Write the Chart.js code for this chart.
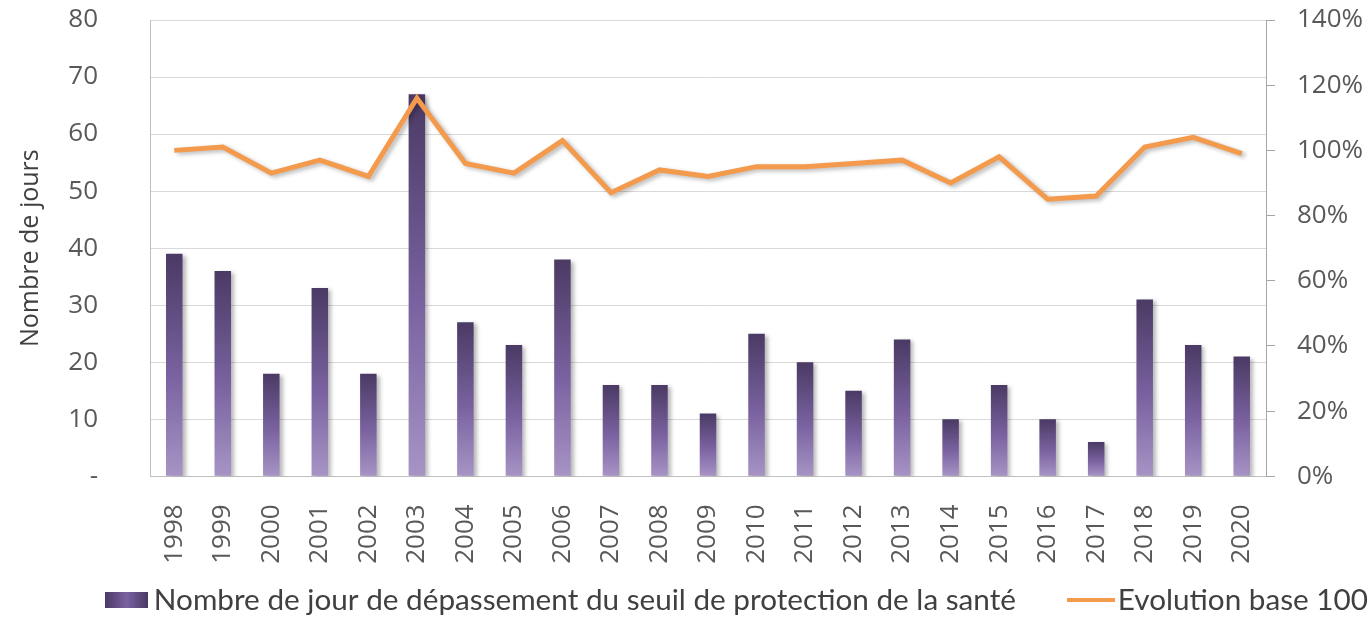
<!DOCTYPE html>
<html lang="fr">
<head>
<meta charset="utf-8">
<script src="https://cdn.jsdelivr.net/npm/chart.js@4.4.0/dist/chart.umd.min.js"></script>
<style>
    html, body { margin: 0; padding: 0; background: #fff; }
    #wrap { width: 1371px; height: 619px; position: relative; }
</style>
</head>
<body>
<div id="wrap"><canvas id="ozone-chart"></canvas></div>
<script>
// Data
const years = ["1998", "1999", "2000", "2001", "2002", "2003", "2004", "2005", "2006", "2007", "2008",
    "2009", "2010", "2011", "2012", "2013", "2014", "2015", "2016", "2017", "2018", "2019", "2020"];
const daysOverThreshold = [39, 36, 18, 33, 18, 67, 27, 23, 38, 16, 16, 11, 25, 20, 15, 24, 10, 16, 10, 6, 31, 23, 21];
const evolutionBase100 = [100, 101, 93, 97, 92, 116, 96, 93, 103, 87, 94, 92, 95, 95, 96, 97, 90, 98, 85, 86, 101, 104, 99];
const daysAxisMax = 80;
const daysAxisStep = 10;
const percentAxisMax = 140;
const percentAxisStep = 20;

const barLabel = "Nombre de jour de dépassement du seuil de protection de la santé";
const lineLabel = "Evolution base 100";

const purpleTop = "#4a3a64";
const purpleMid = "#7a62a0";
const purpleBottom = "#a794c5";
const orange = "#f39a4c";

// legend icons, placed so they sit right next to their text
const legendBox = 80;
function makeBarIcon() {
    const c = document.createElement("canvas");
    c.width = 104; c.height = 16;
    const g = c.getContext("2d");
    const grad = g.createLinearGradient(58, 0, 101, 0);
    grad.addColorStop(0, purpleTop);
    grad.addColorStop(0.5, purpleMid);
    grad.addColorStop(1, purpleTop);
    g.fillStyle = grad;
    g.fillRect(58, 0, 43, 16);
    return c;
}
function makeLineIcon() {
    const c = document.createElement("canvas");
    c.width = 104; c.height = 4;
    const g = c.getContext("2d");
    g.fillStyle = orange;
    g.fillRect(56, 0, 48, 4);
    return c;
}
const barIcon = makeBarIcon();
const lineIcon = makeLineIcon();

function barGradient(context) {
    const chart = context.chart;
    if (!chart.chartArea || context.type !== "data") return purpleMid;
    const y = chart.scales.y;
    const top = y.getPixelForValue(context.raw);
    const base = y.getPixelForValue(0);
    if (!isFinite(top) || !isFinite(base) || base - top < 1) return purpleMid;
    const grad = chart.ctx.createLinearGradient(0, top, 0, base);
    grad.addColorStop(0, purpleTop);
    grad.addColorStop(0.55, purpleMid);
    grad.addColorStop(1, purpleBottom);
    return grad;
}

// soft drop shadow under bars and line
const shadowPlugin = {
    id: "dropShadow",
    beforeDatasetDraw(chart) {
        const ctx = chart.ctx;
        ctx.save();
        ctx.shadowColor = "rgba(0, 0, 0, 0.28)";
        ctx.shadowBlur = 4;
        ctx.shadowOffsetX = 3;
        ctx.shadowOffsetY = 2;
    },
    afterDatasetDraw(chart) {
        chart.ctx.restore();
    },
};

// tick padding would otherwise push the plot area down
function keepTopPadding(scale) {
    scale.paddingTop = 16;
    scale.paddingBottom = 16;
}

const tickFont = { family: "'Open Sans', sans-serif", size: 26 };

new Chart(document.getElementById("ozone-chart"), {
    type: "bar",
    data: {
        labels: years,
        datasets: [
            {
                type: "bar",
                label: barLabel,
                data: daysOverThreshold,
                yAxisID: "y",
                backgroundColor: barGradient,
                categoryPercentage: 1,
                barPercentage: 0.34,
                order: 1,
            },
            {
                type: "line",
                label: lineLabel,
                data: evolutionBase100,
                yAxisID: "y1",
                borderColor: orange,
                backgroundColor: orange,
                borderWidth: 5,
                pointRadius: 0,
                tension: 0,
                borderJoinStyle: "miter",
                order: 0,
            },
        ],
    },
    options: {
        responsive: true,
        maintainAspectRatio: false,
        animation: false,
        layout: { padding: { top: 20, left: 0, right: -4, bottom: -6 } },
        scales: {
            x: {
                grid: { display: false },
                border: { display: true, color: "#bfbfbf", width: 1 },
                ticks: {
                    autoSkip: false,
                    minRotation: 90,
                    maxRotation: 90,
                    padding: 20,
                    color: "#595959",
                    font: tickFont,
                },
                afterFit: function (scale) {
                    scale.height = 102;
                },
            },
            y: {
                position: "left",
                min: 0,
                max: daysAxisMax,
                ticks: {
                    stepSize: daysAxisStep,
                    padding: 52,
                    color: "#595959",
                    font: tickFont,
                    callback: function (value) {
                        return value === 0 ? "-" : value;
                    },
                },
                grid: { color: "#d9d9d9", drawTicks: false },
                border: { color: "#bfbfbf" },
                title: {
                    display: true,
                    text: "Nombre de jours",
                    color: "#404040",
                    font: { family: "'Open Sans', sans-serif", size: 25 },
                    padding: { top: 16, bottom: 4 },
                },
                afterFit: function (scale) {
                    scale.width = 150;
                    keepTopPadding(scale);
                },
            },
            y1: {
                position: "right",
                min: 0,
                max: percentAxisMax,
                ticks: {
                    stepSize: percentAxisStep,
                    padding: 22,
                    color: "#595959",
                    font: tickFont,
                    callback: function (value) {
                        return value + "%";
                    },
                },
                grid: { drawOnChartArea: false, drawTicks: true, tickLength: 9, color: "#a6a6a6" },
                border: { color: "#a6a6a6" },
                afterFit: function (scale) {
                    scale.width = 109;
                    keepTopPadding(scale);
                },
            },
        },
        plugins: {
            tooltip: { enabled: false },
            legend: {
                position: "bottom",
                align: "end",
                labels: {
                    usePointStyle: true,
                    pointStyleWidth: legendBox,
                    boxHeight: 16,
                    padding: 7,
                    color: "#404040",
                    font: { family: "Lato, sans-serif", size: 29.7 },
                    generateLabels: function (chart) {
                        return chart.data.datasets.map(function (ds, i) {
                            return {
                                text: ds.label,
                                pointStyle: i === 0 ? barIcon : lineIcon,
                                datasetIndex: i,
                                fillStyle: "rgba(0,0,0,0)",
                                strokeStyle: "rgba(0,0,0,0)",
                                lineWidth: 0,
                                hidden: false,
                                fontColor: "#404040",
                            };
                        });
                    },
                },
            },
        },
    },
    plugins: [shadowPlugin],
});
</script>
</body>
</html>
